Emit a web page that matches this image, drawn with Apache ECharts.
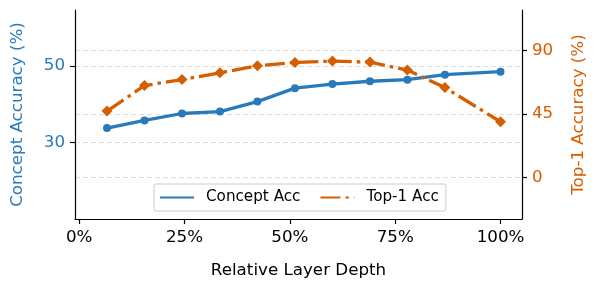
<!DOCTYPE html>
<html>
<head>
<meta charset="utf-8">
<script src="https://cdn.jsdelivr.net/npm/echarts@6/dist/echarts.min.js"></script>
<style>
html,body{margin:0;padding:0;background:#fff;}
#chart{width:597px;height:289px;}
</style>
</head>
<body>
<div id="chart"></div>
<script>
// Data
var layerDepth = [6.6, 15.5, 24.4, 33.4, 42.3, 51.2, 60.1, 69.0, 77.9, 86.8, 100];
var conceptAcc = [33.8, 35.8, 37.6, 38.1, 40.7, 44.2, 45.25, 46.0, 46.4, 47.7, 48.5];
var top1Acc = [47.1, 65.2, 69.5, 74.3, 79.3, 81.6, 82.6, 81.9, 76.2, 63.8, 39.5];
var xTicks = [0, 25, 50, 75, 100];
var leftTicks = [30, 50];
var rightTicks = [0, 45, 90];
var seriesNames = ['Concept Acc', 'Top-1 Acc'];

var BLUE = '#2a7ab9';
var ORANGE = '#d55e00';
var FONT = 'DejaVu Sans';

function pairs(xs, ys) { return xs.map(function (x, i) { return [x, ys[i]]; }); }

var chart = echarts.init(document.getElementById('chart'), null, {renderer: 'canvas'});
var gridLine = {show: true, lineStyle: {color: '#dddddd', type: [5, 3], width: 1}};
chart.setOption({
  animation: false,
  backgroundColor: '#ffffff',
  grid: {left: 75, right: 75, top: 10, bottom: 70},
  legend: {
    left: 154, top: 184,
    orient: 'horizontal',
    itemWidth: 34, itemHeight: 14, itemGap: 19,
    padding: [6, 7, 6, 5],
    borderColor: '#cccccc', borderWidth: 1, borderRadius: 2,
    backgroundColor: '#ffffff',
    itemStyle: {opacity: 0},
    textStyle: {fontFamily: FONT, fontSize: 15.2, color: '#000', padding: [0, 0, 0, 7]},
    data: seriesNames
  },
  xAxis: {
    type: 'value', min: -1, max: 105.1,
    name: 'Relative Layer Depth', nameLocation: 'middle', nameGap: 43,
    nameTextStyle: {fontFamily: FONT, fontSize: 16.7, color: '#000'},
    axisLine: {show: true, onZero: false, lineStyle: {color: '#000', width: 1.2}},
    axisTick: {show: true, length: 5, lineStyle: {color: '#000', width: 1.2}, customValues: xTicks},
    axisLabel: {fontFamily: FONT, fontSize: 16.7, color: '#000', margin: 10, customValues: xTicks,
      formatter: function (v) { return v + '%'; }},
    splitLine: {show: false}
  },
  yAxis: [{
    type: 'value', position: 'left', min: 10.13, max: 64.55,
    name: 'Concept Accuracy (%)', nameLocation: 'middle', nameGap: 49, nameRotate: 90,
    nameTextStyle: {fontFamily: FONT, fontSize: 16.7, color: BLUE},
    axisLine: {show: true, onZero: false, lineStyle: {color: '#000', width: 1.2}},
    axisTick: {show: true, length: 5, lineStyle: {color: '#000', width: 1.2}, customValues: leftTicks},
    axisLabel: {fontFamily: FONT, fontSize: 16.7, color: BLUE, margin: 10, customValues: leftTicks},
    splitLine: gridLine
  }, {
    type: 'value', position: 'right', min: -29.6, max: 118.9,
    name: 'Top-1 Accuracy (%)', nameLocation: 'middle', nameGap: 48, nameRotate: 90,
    nameTextStyle: {fontFamily: FONT, fontSize: 16.7, color: ORANGE},
    axisLine: {show: true, onZero: false, lineStyle: {color: '#000', width: 1.2}},
    axisTick: {show: true, length: 5, lineStyle: {color: '#000', width: 1.2}, customValues: rightTicks},
    axisLabel: {fontFamily: FONT, fontSize: 16.7, color: ORANGE, margin: 10, customValues: rightTicks},
    splitLine: gridLine
  }],
  series: [{
    name: seriesNames[0], type: 'line', yAxisIndex: 0,
    data: pairs(layerDepth, conceptAcc),
    symbol: 'circle', symbolSize: 8, showSymbol: true,
    itemStyle: {color: BLUE},
    lineStyle: {color: BLUE, width: 3.3},
    z: 2
  }, {
    name: seriesNames[1], type: 'line', yAxisIndex: 1,
    data: pairs(layerDepth, top1Acc),
    symbol: 'diamond', symbolSize: [11, 11],
    itemStyle: {color: ORANGE},
    lineStyle: {color: ORANGE, width: 3.3, type: [20, 5, 3.5, 5], cap: 'butt'},
    z: 3
  }]
});
</script>
</body>
</html>
